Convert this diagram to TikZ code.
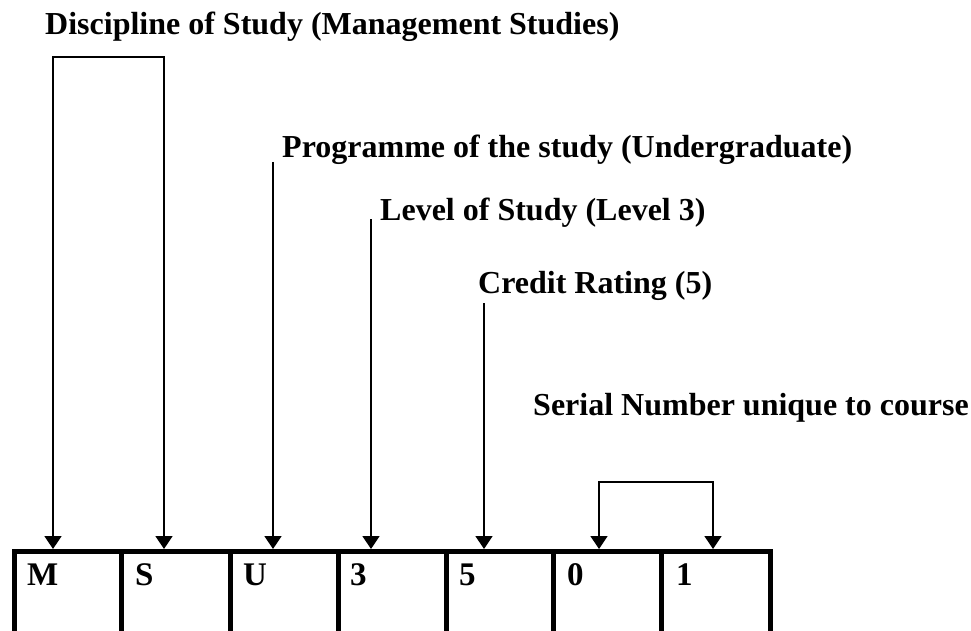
\documentclass[tikz,border=0pt]{standalone}
\usepackage{fontspec}
\setmainfont{Liberation Serif}
\usetikzlibrary{arrows.meta}
\tikzset{
  lbl/.style={anchor=base west, inner sep=0pt, font=\fontsize{32}{38}\selectfont\bfseries},
  cell/.style={anchor=base west, inner sep=0pt, font=\fontsize{33}{38}\selectfont\bfseries},
  conn/.style={line width=1.5pt, -{Triangle[length=13pt,width=17pt]}},
  bothconn/.style={line width=1.5pt, {Triangle[length=13pt,width=17pt]}-{Triangle[length=13pt,width=17pt]}},
  bar/.style={line width=5pt}
}
\begin{document}
\begin{tikzpicture}[x=1pt,y=-1pt]
\useasboundingbox (0,0) rectangle (971,631);
% table frame
\draw[bar, line join=miter] (14.5,631) -- (14.5,551.5) -- (770,551.5) -- (770,631);
\foreach \xx in {121.5,230,338,446,553.5,661.5} \draw[bar] (\xx,549) -- (\xx,631);
% cell letters
\node[cell] (cM) at (27,585) {M};
\node[cell] (cS) at (135,585) {S};
\node[cell] (cU) at (243,585) {U};
\node[cell] (c3) at (350,585) {3};
\node[cell] (c5) at (459,585) {5};
\node[cell] (c0) at (567,585) {0};
\node[cell] (c1) at (676,585) {1};
% labels
\node[lbl] (disc) at (45,35) {Discipline of Study (Management Studies)};
\node[lbl] (prog) at (282,158) {Programme of the study (Undergraduate)};
\node[lbl] (lev) at (380,220) {Level of Study (Level 3)};
\node[lbl] (cred) at (478,293) {Credit Rating (5)};
\node[lbl] (ser) at (533,415) {Serial Number unique to course};
% arrow targets on the top bar
\coordinate (tM) at (53,549);
\coordinate (tS) at (164,549);
\coordinate (tU) at (273,549);
\coordinate (t3) at (371,549);
\coordinate (t5) at (484,549);
\coordinate (t0) at (599,549);
\coordinate (t1) at (713,549);
% connector starts
\coordinate (dL) at (53,57);
\coordinate (dR) at (164,57);
\coordinate (pS) at (273,162);
\coordinate (lS) at (371,219);
\coordinate (cS0) at (484,303);
\coordinate (sL) at (599,482);
\coordinate (sR) at (713,482);
% connectors
\draw[bothconn, line join=miter] (tM) -- (dL) -- (dR) -- (tS);
\draw[conn] (pS) -- (tU);
\draw[conn] (lS) -- (t3);
\draw[conn] (cS0) -- (t5);
\draw[bothconn, line join=miter] (t0) -- (sL) -- (sR) -- (t1);
\end{tikzpicture}
\end{document}
